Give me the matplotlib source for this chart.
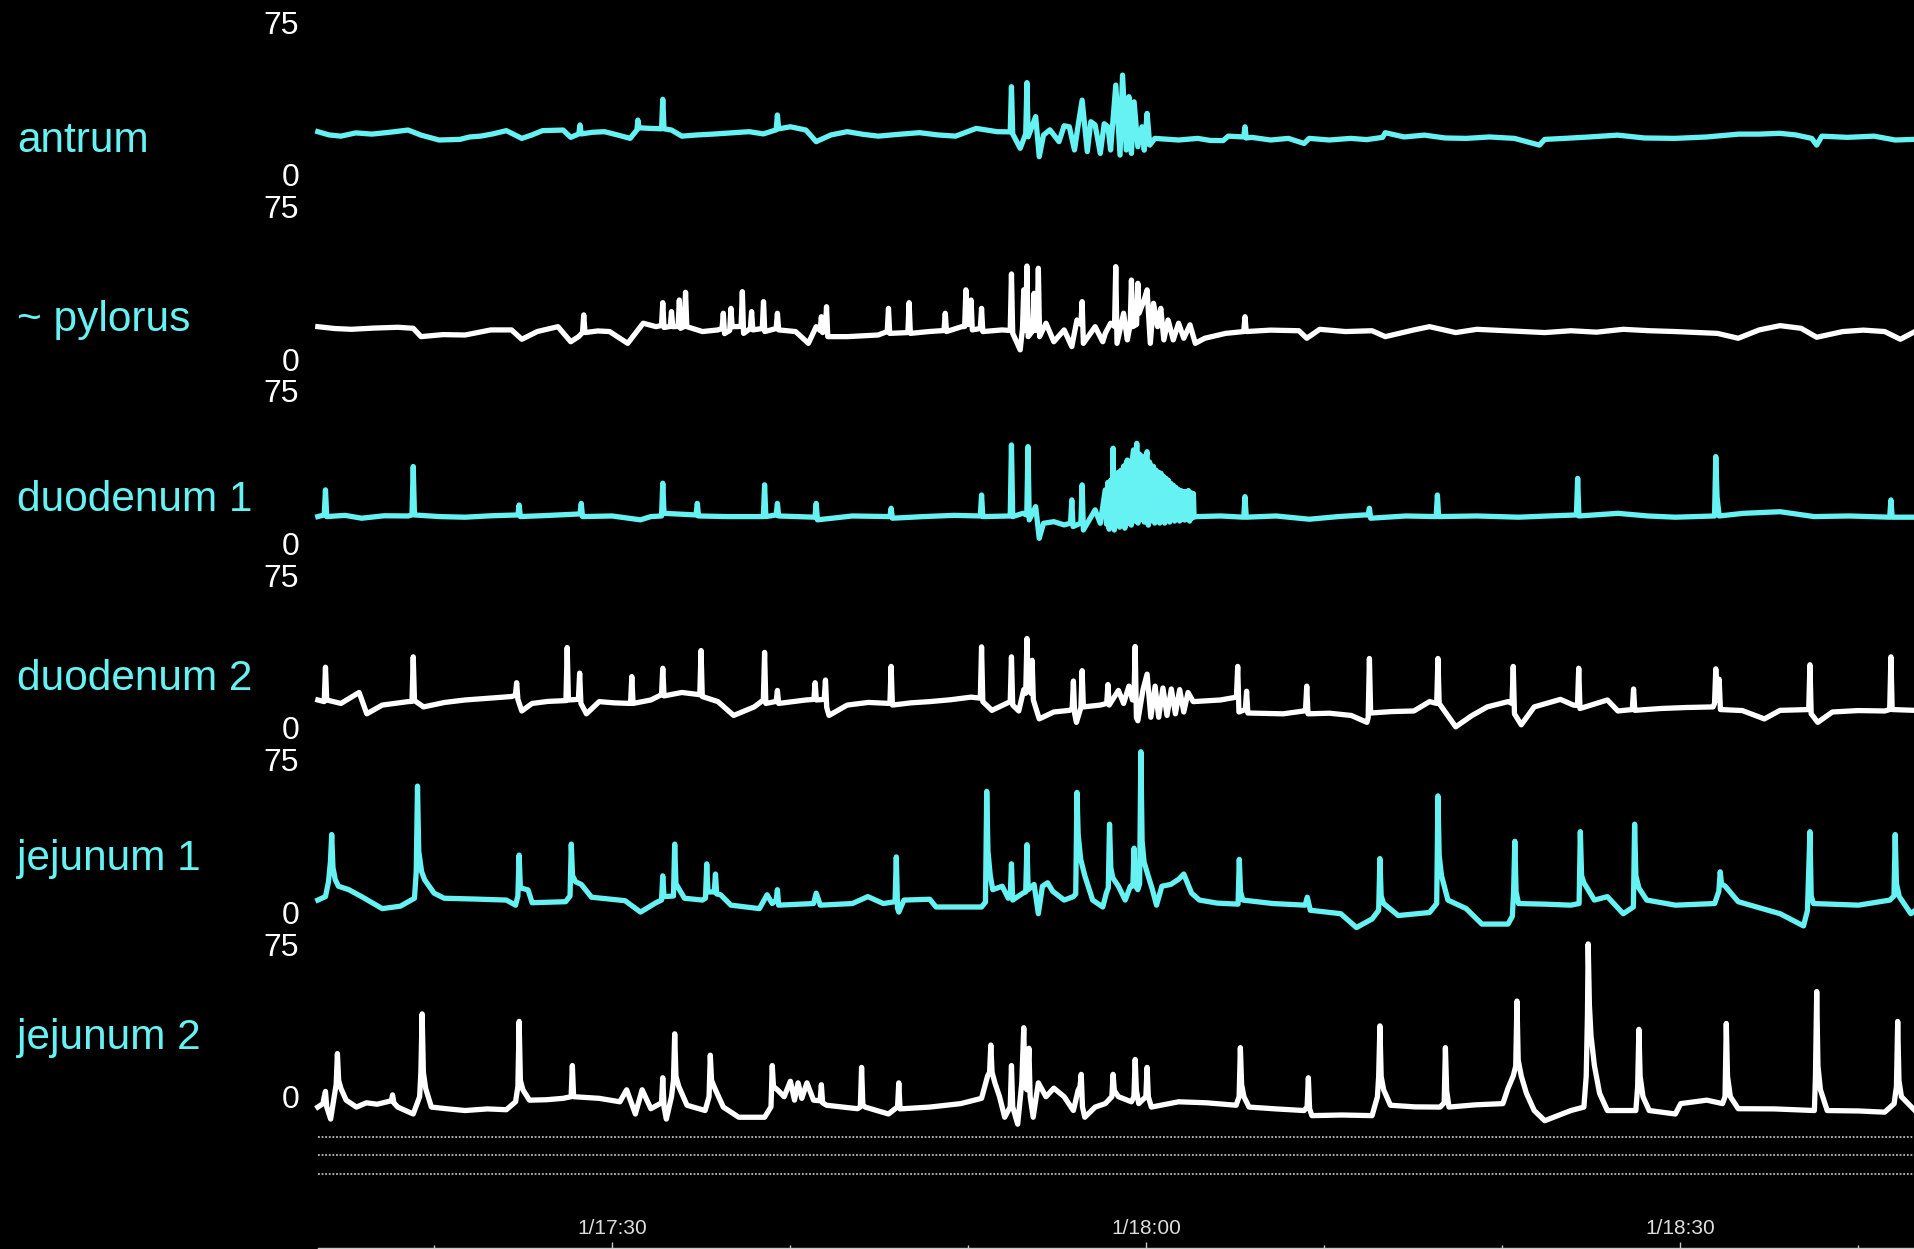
import matplotlib
matplotlib.use("Agg")
import matplotlib.pyplot as plt

plt.rcParams['font.family'] = ['Liberation Sans', 'DejaVu Sans']

# ---------------- data (time in minutes after 17:00, pressure units) ----------------
channel_names = ['antrum', '~ pylorus', 'duodenum 1', 'duodenum 2', 'jejunum 1', 'jejunum 2']

antrum_pts = [
    (13.47, 21.1), (14.1, 19.5), (14.77, 18.9), (15.6, 20.5), (16.51, 19.9), (17.5, 20.8),
    (18.54, 21.9), (19.27, 19.4), (20.28, 17.0), (21.45, 17.3), (22.0, 18.5), (22.61, 18.9),
    (23.3, 20.0), (24.06, 21.6), (24.93, 17.8), (25.5, 19.5), (26.09, 21.6), (27.25, 21.9),
    (27.68, 18.3), (28.13, 20.0), (28.20, 24.4), (28.27, 20.0), (28.9, 20.8), (29.57, 21.1),
    (30.3, 19.5), (31.02, 17.8), (31.40, 22.0), (31.45, 26.8), (31.52, 23.0), (32.18, 22.7),
    (32.78, 22.5), (32.85, 37.0), (32.92, 22.5), (33.34, 21.9), (33.92, 18.9), (34.8, 19.5),
    (35.66, 19.9), (36.7, 20.5), (37.70, 21.1), (38.5, 20.0), (39.22, 22.0), (39.29, 29.3),
    (39.36, 22.5), (40.02, 23.5), (40.89, 21.9), (41.47, 16.2), (42.3, 19.5), (43.21, 21.1),
    (44.1, 19.8), (44.95, 18.9), (46.1, 19.8), (47.27, 20.6), (48.3, 19.5), (49.30, 18.9),
    (50.46, 22.7), (51.63, 21.1), (52.37, 21.0), (52.44, 43.2), (52.51, 20.0), (52.93, 12.9),
    (53.24, 20.0), (53.31, 45.2), (53.38, 18.6), (53.80, 28.5), (54.00, 8.8), (54.24, 19.4),
    (54.60, 22.0), (55.11, 16.2), (55.40, 24.0), (55.69, 23.5), (55.98, 12.1), (56.20, 25.0),
    (56.41, 36.6), (56.70, 11.3), (56.90, 26.0), (57.14, 24.4), (57.43, 10.4), (57.65, 25.0),
    (57.86, 23.5), (58.01, 12.1), (58.30, 44.0), (58.54, 9.6), (58.68, 48.9), (58.89, 12.1),
    (59.04, 38.3), (59.18, 10.4), (59.33, 35.8), (59.54, 13.7), (59.77, 23.5), (59.90, 12.0),
    (60.06, 30.1), (60.21, 14.5), (60.50, 17.8), (61.83, 17.0), (62.9, 17.8), (63.6, 16.8),
    (64.33, 16.7), (64.62, 18.9), (65.49, 18.5), (65.56, 23.5), (65.63, 18.0), (65.94, 18.3),
    (67.0, 17.0), (68.0, 17.8), (68.88, 15.3), (69.17, 17.8), (70.3, 17.0), (71.5, 17.8),
    (72.4, 17.2), (73.29, 18.3), (73.44, 20.6), (74.5, 18.5), (75.64, 19.4), (76.8, 18.0),
    (78.00, 17.8), (79.3, 18.5), (80.7, 17.8), (82.10, 14.5), (82.40, 17.3), (83.5, 17.8),
    (84.9, 18.5), (86.50, 19.4), (88.0, 18.0), (89.70, 17.8), (91.5, 18.5), (93.30, 19.9),
    (94.45, 19.9), (95.60, 20.3), (96.5, 19.5), (97.40, 17.8), (97.68, 14.5), (97.97, 18.9),
    (99.4, 18.3), (100.90, 18.9), (102.09, 17.0), (103.10, 17.3),
]

pylorus_pts = [
    (13.47, 15.9), (14.4, 15.0), (15.35, 14.6), (16.6, 15.2), (17.96, 15.6), (18.83, 15.1),
    (19.27, 11.0), (20.5, 12.0), (21.74, 11.8), (23.19, 14.3), (24.35, 14.3), (24.93, 9.7),
    (25.80, 13.5), (26.96, 15.9), (27.68, 8.5), (28.12, 11.0), (28.34, 13.0), (28.41, 21.7),
    (28.48, 13.0), (29.2, 13.8), (29.86, 13.5), (30.88, 7.7), (31.75, 17.6), (32.47, 15.9),
    (32.78, 16.5), (32.85, 27.7), (32.92, 15.5), (33.27, 16.0), (33.34, 23.3), (33.41, 15.9),
    (33.71, 16.0), (33.78, 29.0), (33.85, 15.1), (34.06, 16.0), (34.13, 32.8), (34.20, 15.9),
    (35.08, 13.5), (35.95, 14.3), (36.18, 15.0), (36.25, 22.5), (36.32, 12.5), (36.61, 14.0),
    (36.68, 24.9), (36.75, 15.9), (37.25, 16.0), (37.32, 33.1), (37.39, 12.6), (37.77, 15.0),
    (37.84, 23.3), (37.91, 14.3), (38.44, 15.0), (38.51, 28.2), (38.58, 13.5), (39.22, 15.0),
    (39.29, 22.5), (39.36, 14.3), (40.31, 13.5), (41.03, 7.7), (41.47, 15.9), (41.69, 14.0),
    (41.76, 20.8), (41.83, 13.0), (41.98, 14.0), (42.05, 25.7), (42.12, 11.0), (43.21, 11.0),
    (44.95, 11.8), (45.46, 13.5), (45.53, 24.9), (45.60, 12.6), (46.62, 13.0), (46.69, 27.7),
    (46.76, 12.6), (47.8, 13.5), (48.65, 14.0), (48.72, 22.5), (48.79, 13.5), (49.65, 15.9),
    (49.81, 16.0), (49.88, 34.0), (49.95, 17.0), (50.10, 17.0), (50.17, 29.0), (50.24, 14.3),
    (50.69, 15.0), (50.76, 24.9), (50.83, 13.5), (51.92, 14.3), (52.37, 14.0), (52.44, 41.8),
    (52.51, 12.6), (52.93, 4.5), (53.06, 15.0), (53.13, 34.0), (53.20, 14.0), (53.24, 16.0),
    (53.31, 45.7), (53.38, 11.0), (53.64, 14.0), (53.71, 32.3), (53.78, 14.0), (53.88, 15.0),
    (53.95, 44.6), (54.02, 11.0), (54.38, 17.6), (54.82, 8.5), (55.40, 14.3), (55.83, 6.1),
    (56.12, 19.2), (56.34, 17.0), (56.41, 28.2), (56.48, 7.7), (57.14, 15.9), (57.57, 8.5),
    (57.71, 12.6), (58.01, 17.6), (58.23, 16.0), (58.30, 45.4), (58.37, 7.7), (58.74, 22.5),
    (58.95, 9.4), (59.11, 17.0), (59.18, 38.8), (59.25, 15.9), (59.47, 17.0), (59.54, 37.2),
    (59.61, 22.5), (59.89, 29.0), (60.06, 34.0), (60.24, 7.7), (60.42, 27.4), (60.65, 15.9),
    (60.83, 24.9), (61.00, 9.4), (61.24, 19.2), (61.53, 9.4), (61.83, 17.6), (62.12, 10.2),
    (62.47, 16.8), (62.77, 7.7), (63.30, 10.2), (64.47, 12.6), (65.49, 13.5), (65.56, 20.8),
    (65.63, 13.5), (67.0, 14.2), (68.59, 13.9), (69.03, 10.2), (69.76, 14.6), (71.2, 13.5),
    (72.70, 13.9), (73.44, 11.0), (75.05, 14.3), (75.93, 15.9), (77.40, 13.0), (78.58, 14.6),
    (80.5, 13.8), (82.40, 13.0), (83.87, 13.9), (85.3, 13.2), (86.81, 14.6), (88.3, 13.9),
    (89.74, 13.5), (92.10, 12.6), (93.27, 10.2), (94.45, 14.3), (95.62, 16.4), (96.80, 15.1),
    (97.68, 10.7), (99.15, 13.5), (100.3, 14.2), (101.50, 13.5), (102.38, 9.7), (103.20, 13.5),
]

duodenum1_pts = [
    (13.47, 13.2), (13.83, 14.0), (13.90, 26.3), (13.97, 13.2), (15.0, 13.8), (15.93, 12.4),
    (17.2, 13.6), (18.54, 13.5), (18.76, 14.0), (18.83, 37.8), (18.90, 14.0), (20.3, 13.2),
    (21.74, 12.9), (23.2, 13.6), (24.71, 14.0), (24.78, 18.9), (24.85, 13.2), (26.5, 13.8),
    (28.20, 14.5), (28.27, 19.7), (28.34, 13.2), (30.0, 13.5), (31.60, 11.6), (32.18, 13.2),
    (32.78, 13.5), (32.85, 29.6), (32.92, 14.8), (34.72, 14.0), (34.79, 19.7), (34.86, 13.5),
    (36.5, 13.2), (38.50, 13.2), (38.57, 28.8), (38.64, 13.2), (39.22, 14.0), (39.29, 19.7),
    (39.36, 13.5), (41.40, 12.9), (41.47, 19.7), (41.54, 11.6), (43.5, 13.5), (45.61, 13.2),
    (45.68, 17.3), (45.75, 12.4), (47.5, 13.2), (49.2, 13.8), (50.69, 13.5), (50.76, 23.8),
    (50.83, 13.2), (52.37, 13.5), (52.44, 48.4), (52.51, 13.2), (53.08, 14.8), (53.30, 14.0),
    (53.37, 47.6), (53.44, 11.6), (53.80, 18.1), (54.00, 2.5), (54.24, 9.9), (54.82, 10.7),
    (55.40, 9.1), (55.76, 10.0), (55.83, 21.4), (55.90, 8.3), (56.34, 10.0), (56.41, 28.8),
    (56.48, 6.6), (57.14, 16.5), (57.43, 9.9),
    (57.71, 26.3), (57.78, 9.5), (57.86, 30.0), (57.93, 7.0), (58.01, 31.0), (58.08, 9.0),
    (58.15, 46.8), (58.22, 6.6), (58.30, 33.0), (58.37, 9.5), (58.45, 35.0), (58.52, 8.0),
    (58.60, 36.0), (58.67, 10.0), (58.74, 38.0), (58.81, 7.5), (58.88, 39.0), (58.95, 41.0),
    (59.02, 10.0), (59.10, 40.0), (59.17, 9.0), (59.24, 42.0), (59.30, 46.0), (59.37, 11.0),
    (59.48, 49.2), (59.55, 10.0), (59.62, 44.0), (59.69, 12.0), (59.76, 43.0), (59.83, 42.0),
    (59.90, 10.5), (59.98, 41.0), (60.06, 45.1), (60.13, 9.0), (60.20, 40.0), (60.27, 11.0),
    (60.34, 38.0), (60.42, 37.8), (60.49, 10.0), (60.56, 36.0), (60.63, 11.5), (60.70, 35.0),
    (60.77, 10.0), (60.84, 34.5), (60.91, 12.0), (60.98, 33.0), (61.05, 10.0), (61.12, 32.0),
    (61.19, 12.0), (61.26, 31.0), (61.33, 10.5), (61.40, 29.5), (61.47, 12.0), (61.54, 28.5),
    (61.61, 11.0), (61.68, 27.5), (61.75, 12.5), (61.82, 26.5), (61.89, 11.0), (61.96, 26.0),
    (62.03, 12.0), (62.10, 25.5), (62.17, 11.5), (62.24, 25.5), (62.31, 12.0), (62.38, 26.0),
    (62.45, 11.0), (62.52, 25.0), (62.59, 12.5), (62.66, 24.5), (62.70, 13.0), (62.86, 13.2),
    (64.2, 13.5), (65.49, 12.9), (65.56, 23.0), (65.63, 12.9), (67.3, 13.5), (69.17, 11.9),
    (70.8, 13.2), (72.26, 14.0), (72.48, 14.0), (72.55, 17.3), (72.62, 12.4), (74.6, 13.5),
    (76.30, 13.2), (76.37, 23.8), (76.44, 13.2), (78.6, 13.5), (80.93, 12.9), (82.6, 13.5),
    (84.18, 14.0), (84.25, 32.0), (84.32, 13.5), (86.51, 14.8), (88.2, 13.5), (89.74, 12.9),
    (91.94, 13.5), (92.01, 42.7), (92.08, 23.0), (92.20, 13.5), (93.56, 14.8), (95.62, 15.6),
    (97.53, 13.2), (99.5, 13.5), (101.78, 12.9), (101.85, 21.4), (101.92, 12.9), (103.20, 12.9),
]

duodenum2_pts = [
    (13.47, 13.7), (13.83, 12.9), (13.90, 29.8), (13.97, 13.7), (14.77, 12.0), (15.79, 17.4),
    (16.22, 6.9), (17.09, 11.2), (18.54, 12.9), (18.76, 13.0), (18.83, 34.9), (18.90, 13.4),
    (19.41, 10.3), (20.6, 12.5), (21.74, 13.7), (23.0, 14.5), (24.35, 15.4), (24.57, 16.0),
    (24.64, 22.2), (24.71, 14.0), (24.93, 8.3), (25.51, 12.0), (26.4, 13.0), (27.41, 13.4),
    (27.48, 39.5), (27.55, 13.7), (28.11, 14.0), (28.18, 26.9), (28.25, 12.0), (28.56, 6.9),
    (29.28, 12.9), (30.1, 12.3), (31.04, 12.0), (31.11, 25.2), (31.18, 12.0), (32.18, 13.7),
    (32.78, 16.3), (32.85, 29.3), (32.92, 15.7), (33.92, 17.4), (34.93, 16.3), (35.00, 38.0),
    (35.07, 15.4), (35.95, 12.9), (36.83, 6.1), (37.99, 10.3), (38.50, 13.7), (38.57, 37.1),
    (38.64, 12.0), (39.22, 13.0), (39.29, 18.4), (39.36, 12.0), (40.89, 13.7), (41.34, 14.0),
    (41.41, 22.2), (41.48, 13.7), (41.92, 14.0), (41.99, 23.5), (42.06, 10.0), (42.19, 6.1),
    (43.21, 11.2), (44.4, 12.5), (45.61, 12.0), (45.68, 30.2), (45.75, 11.2), (46.8, 12.3),
    (47.85, 12.9), (49.0, 13.8), (50.17, 15.1), (50.69, 14.6), (50.76, 39.8), (50.83, 12.9),
    (51.34, 8.6), (52.37, 12.9), (52.44, 34.9), (52.51, 11.2), (52.85, 8.3), (53.13, 18.8),
    (53.24, 17.0), (53.31, 43.9), (53.38, 20.5), (53.53, 17.0), (53.60, 33.2), (53.67, 13.7),
    (54.00, 4.4), (54.82, 7.8), (55.69, 8.6), (55.85, 9.0), (55.92, 23.0), (55.99, 7.0),
    (56.09, 2.7), (56.34, 10.0), (56.41, 28.1), (56.48, 10.3), (57.43, 11.2), (57.79, 12.0),
    (57.86, 21.3), (57.93, 11.2), (58.45, 18.4), (58.74, 12.0), (59.04, 20.5), (59.24, 13.7),
    (59.32, 14.0), (59.39, 40.0), (59.46, 5.0), (59.54, 3.5), (59.83, 18.8), (60.06, 26.4),
    (60.27, 5.2), (60.51, 20.5), (60.71, 5.2), (60.95, 19.6), (61.18, 6.1), (61.42, 19.1),
    (61.65, 6.9), (61.89, 18.8), (62.12, 7.8), (62.36, 17.4), (62.65, 12.9), (64.18, 13.7),
    (65.08, 15.1), (65.15, 30.2), (65.22, 7.8), (65.58, 9.0), (65.65, 18.0), (65.72, 7.3),
    (67.70, 6.9), (68.88, 8.3), (68.96, 9.0), (69.03, 20.5), (69.10, 6.9), (70.3, 7.2),
    (71.53, 6.1), (72.41, 2.7), (72.48, 5.0), (72.55, 34.1), (72.62, 7.3), (73.8, 8.0),
    (75.05, 8.3), (75.93, 12.9), (76.33, 12.0), (76.40, 34.1), (76.47, 12.0), (77.40, 0.5),
    (78.3, 6.0), (79.17, 10.3), (80.34, 12.9), (80.56, 12.0), (80.63, 30.2), (80.70, 6.9),
    (81.08, 1.5), (81.81, 10.3), (83.28, 14.0), (84.01, 11.2), (84.24, 11.0), (84.31, 29.3),
    (84.38, 9.5), (85.92, 13.7), (86.51, 8.3), (87.32, 9.0), (87.39, 19.1), (87.46, 8.6),
    (88.9, 9.5), (90.33, 10.0), (91.86, 10.3), (91.94, 12.0), (92.01, 29.0), (92.08, 13.7),
    (92.20, 23.9), (92.27, 9.0), (93.5, 8.5), (94.74, 4.4), (95.62, 8.6), (97.23, 9.0),
    (97.30, 31.0), (97.37, 6.9), (97.74, 2.7), (98.56, 7.8), (100.0, 8.5), (101.50, 8.3),
    (101.78, 9.0), (101.85, 34.9), (101.92, 9.0), (103.20, 8.6),
]

jejunum1_pts = [
    (13.47, 6.0), (13.90, 7.7), (14.07, 15.0), (14.18, 25.0), (14.25, 38.2), (14.32, 22.0),
    (14.45, 16.0), (14.63, 12.8), (15.21, 11.1), (15.93, 7.7), (17.09, 1.8), (18.11, 3.0),
    (18.90, 6.9), (19.00, 20.0), (19.07, 62.0), (19.14, 30.0), (19.30, 20.0), (19.47, 16.0),
    (20.00, 9.4), (20.57, 6.9), (22.3, 6.5), (24.06, 6.0), (24.58, 3.5), (24.71, 8.0),
    (24.78, 28.1), (24.85, 12.0), (25.28, 11.0), (25.51, 4.7), (27.39, 5.2), (27.64, 8.0),
    (27.71, 33.5), (27.78, 18.0), (27.95, 15.0), (28.27, 13.7), (28.85, 7.4), (30.73, 5.7),
    (31.60, 0.1), (32.47, 4.7), (32.78, 6.0), (32.85, 17.9), (32.92, 7.7), (33.45, 8.0),
    (33.52, 33.5), (33.59, 14.0), (34.07, 6.9), (35.08, 6.0), (35.25, 7.0), (35.32, 23.8),
    (35.39, 10.0), (35.74, 10.0), (35.81, 18.8), (35.88, 9.0), (36.10, 8.6), (36.68, 3.5),
    (38.28, 1.8), (38.71, 8.6), (39.00, 4.3), (39.22, 6.0), (39.29, 11.1), (39.36, 3.5),
    (41.32, 4.3), (41.47, 9.4), (41.70, 3.5), (43.50, 4.3), (44.37, 7.7), (45.24, 4.3),
    (45.90, 5.2), (45.97, 27.2), (46.04, 2.0), (46.11, 0.1), (46.40, 6.0), (47.85, 6.4),
    (48.20, 2.6), (50.76, 2.6), (50.98, 5.0), (51.05, 59.4), (51.12, 30.0), (51.25, 18.0),
    (51.39, 11.1), (51.92, 12.8), (52.26, 6.9), (52.37, 8.0), (52.44, 23.8), (52.51, 6.0),
    (53.08, 9.4), (53.24, 10.0), (53.31, 33.2), (53.38, 11.1), (53.71, 13.7), (53.95, -0.7),
    (54.18, 12.8), (54.47, 14.5), (54.76, 10.3), (55.40, 6.0), (55.92, 7.7), (56.05, 9.0),
    (56.12, 58.9), (56.19, 38.0), (56.33, 26.0), (56.56, 18.0), (57.00, 6.0), (57.57, 2.6),
    (57.77, 9.4), (57.88, 12.0), (57.95, 43.3), (58.02, 22.0), (58.13, 17.0), (58.45, 12.8),
    (58.83, 6.0), (59.12, 12.8), (59.26, 13.0), (59.33, 31.5), (59.40, 13.0), (59.54, 11.1),
    (59.64, 14.0), (59.71, 78.9), (59.78, 35.0), (59.89, 24.7), (60.12, 17.9), (60.36, 11.1),
    (60.59, 3.5), (60.89, 12.8), (61.39, 13.7), (61.83, 16.2), (62.12, 18.8), (62.56, 9.4),
    (63.00, 6.0), (64.0, 4.5), (65.17, 4.0), (65.24, 26.0), (65.31, 10.0), (65.44, 6.0),
    (67.12, 4.3), (68.94, 3.5), (69.06, 7.4), (69.23, 1.0), (70.94, -0.7), (71.82, -7.5),
    (72.70, -3.3), (73.07, 1.0), (73.14, 26.4), (73.21, 8.0), (73.35, 4.3), (74.17, -1.6),
    (75.93, -0.1), (76.33, 4.3), (76.40, 57.2), (76.47, 28.0), (76.60, 18.0), (76.96, 6.0),
    (77.99, 1.8), (78.87, -5.8), (80.34, -5.8), (80.58, -2.0), (80.65, 10.0), (80.72, 34.9),
    (80.79, 10.0), (80.93, 4.3), (82.4, 4.0), (83.87, 3.5), (84.33, 4.3), (84.40, 39.6),
    (84.47, 18.0), (84.60, 14.5), (85.19, 6.0), (85.92, 7.7), (86.81, -0.7), (87.38, 2.6),
    (87.45, 43.3), (87.52, 18.0), (87.69, 11.9), (88.13, 6.0), (89.74, 3.5), (91.95, 4.3),
    (92.18, 10.3), (92.26, 19.9), (92.33, 14.0), (92.54, 12.8), (93.27, 5.2), (95.62, -0.7),
    (96.94, -6.7), (97.16, 0.9), (97.23, 20.0), (97.30, 39.6), (97.37, 8.0), (97.50, 4.3),
    (100.03, 3.5), (101.79, 6.0), (102.02, 8.0), (102.09, 38.2), (102.16, 14.0), (102.32, 7.7),
    (102.97, -0.7), (103.20, 0.9),
]

jejunum2_pts = [
    (13.47, -5.1), (13.76, -3.4), (13.83, 0.0), (13.90, 2.6), (13.97, -5.0), (14.19, -11.0),
    (14.39, 0.0), (14.50, 6.0), (14.57, 21.2), (14.64, 8.0), (14.77, 4.0), (15.06, -1.7),
    (15.64, -5.1), (16.2, -3.0), (16.80, -3.7), (17.60, -2.0), (17.67, 0.9), (17.74, -3.0),
    (17.96, -5.1), (18.83, -8.5), (19.19, 0.0), (19.26, 12.0), (19.33, 40.7), (19.40, 12.0),
    (19.53, 4.0), (19.85, -5.1), (20.8, -6.0), (21.74, -6.8), (23.0, -6.0), (24.06, -6.4),
    (24.58, -2.5), (24.71, 5.0), (24.78, 37.0), (24.85, 8.0), (24.99, 3.4), (25.36, -1.7),
    (26.3, -1.5), (27.25, -0.8), (27.70, 0.0), (27.77, 15.3), (27.84, 0.0), (29.28, -0.8),
    (30.44, -2.5), (30.82, 3.4), (31.31, -8.5), (31.69, 3.4), (32.18, -5.9), (32.78, -3.0),
    (32.85, 9.3), (32.92, -5.0), (33.05, -11.0), (33.34, 0.0), (33.45, 8.0), (33.52, 30.9),
    (33.59, 10.0), (33.75, 5.0), (34.21, -4.2), (35.23, -6.8), (35.45, 0.0), (35.52, 20.4),
    (35.59, 8.0), (35.81, 3.4), (36.25, -5.1), (37.12, -10.1), (38.57, -10.1), (38.93, -5.0),
    (39.00, 15.3), (39.07, 5.0), (39.29, 3.4), (39.67, 0.0), (40.02, 7.6), (40.25, -1.7),
    (40.45, 6.8), (40.66, -0.8), (40.95, 6.8), (41.32, -1.7), (41.69, -2.0), (41.76, 5.9),
    (41.83, -3.0), (42.05, -4.2), (43.79, -5.9), (43.95, -5.0), (44.02, 14.4), (44.09, -4.0),
    (44.22, -5.1), (45.53, -8.5), (46.04, -5.0), (46.11, 6.8), (46.18, -6.0), (47.85, -5.1),
    (49.59, -3.4), (50.76, -0.8), (51.10, 10.2), (51.21, 12.0), (51.28, 25.4), (51.35, 12.0),
    (51.51, 6.8), (51.77, 0.0), (52.06, -10.1), (52.37, -5.0), (52.44, 15.3), (52.51, -5.0),
    (52.79, -13.5), (53.02, 6.8), (53.13, 33.9), (53.20, 5.0), (53.31, 3.4), (53.42, 23.8),
    (53.49, 0.0), (53.66, -10.1), (53.95, 6.8), (54.38, 0.0), (54.82, 4.2), (55.40, 0.0),
    (55.92, -6.8), (56.18, 3.0), (56.29, 5.0), (56.36, 11.0), (56.43, -5.0), (56.56, -10.1),
    (57.14, -5.1), (57.71, -3.4), (58.08, 0.0), (58.15, 11.0), (58.22, 3.0), (58.45, 0.0),
    (59.18, -2.5), (59.32, 0.0), (59.39, 18.3), (59.46, 3.0), (59.59, -3.4), (59.99, 0.0),
    (60.06, 14.4), (60.13, 0.0), (60.30, -5.1), (61.83, -2.5), (63.4, -3.0), (65.06, -4.2),
    (65.23, 0.0), (65.30, 24.1), (65.37, 6.0), (65.50, 0.0), (65.79, -5.1), (67.3, -6.0),
    (68.88, -6.8), (69.05, -5.0), (69.12, 9.3), (69.19, -6.0), (69.32, -9.3), (71.0, -9.0),
    (72.70, -9.3), (73.00, 0.0), (73.07, 10.0), (73.14, 34.8), (73.21, 10.0), (73.35, 3.4),
    (73.73, -4.2), (75.1, -5.0), (76.52, -5.1), (76.75, -3.0), (76.82, 24.1), (76.89, 3.0),
    (77.02, -5.1), (78.5, -4.0), (80.05, -3.4), (80.34, 4.2), (80.63, 10.2), (80.77, 15.0),
    (80.84, 47.0), (80.91, 18.0), (81.08, 10.2), (81.37, 1.7), (81.81, -6.8), (82.40, -11.8),
    (83.87, -6.8), (84.60, -5.1), (84.73, 10.0), (84.80, 40.0), (84.84, 75.1), (84.91, 45.0),
    (85.00, 30.0), (85.19, 15.3), (85.48, 1.7), (85.92, -6.8), (87.52, -6.8), (87.62, 5.0),
    (87.69, 33.1), (87.76, 10.0), (87.92, 0.0), (88.27, -6.8), (89.74, -8.5), (90.04, -3.4),
    (91.51, -1.7), (92.39, -3.4), (92.53, 0.0), (92.60, 36.0), (92.67, 10.0), (92.83, 0.0),
    (93.27, -5.9), (95.3, -6.0), (97.55, -6.8), (97.61, 10.0), (97.68, 51.7), (97.75, 15.0),
    (97.89, 3.4), (98.27, -6.8), (100.0, -7.0), (101.50, -7.6), (102.03, -3.4), (102.16, 5.0),
    (102.23, 37.0), (102.30, 8.0), (102.44, 0.0), (103.20, -6.8),
]

channel_data = [antrum_pts, pylorus_pts, duodenum1_pts, duodenum2_pts, jejunum1_pts, jejunum2_pts]
channel_colors = ['#66F2F2', '#FFFFFF', '#66F2F2', '#FFFFFF', '#66F2F2', '#FFFFFF']

scale_ticks = [0, 75]
scale_labels = ['0', '75']
event_rows = [-19.8, -28.7, -38.1]          # event-marker rows below the last channel

major_times = [30, 60, 90]
major_labels = ['1/17:30', '1/18:00', '1/18:30']
minor_times = [20, 40, 50, 70, 80, 100]

# ---------------- layout ----------------
W, H = 1915, 1249
fig = plt.figure(figsize=(W / 100, H / 100), dpi=100, facecolor='black')

ax_left, ax_right = 318, 1913
ax = fig.add_axes([ax_left / W, 1 / H, (ax_right - ax_left) / W, (H - 1) / H])
ax.set_facecolor('black')

u = 75 / 152.6                 # units per pixel
zero0_px = 174.6               # pixel row of channel 1 zero
spacing_px = 184.42
offset_step = spacing_px * u
ax.set_ylim((zero0_px - (H - 1)) * u, zero0_px * u)
ax.set_xlim(13.48, 103.09)

offsets = [-k * offset_step for k in range(len(channel_names))]

for pts, off, col in zip(channel_data, offsets, channel_colors):
    t = [p[0] for p in pts]
    v = [p[1] + off for p in pts]
    ax.plot(t, v, color=col, lw=3.8, solid_joinstyle='round', clip_on=False)

for r in event_rows:
    ax.hlines(offsets[-1] + r, 13.48, 103.09, colors='#BBBBBB', lw=1.3,
              linestyles=(0, (1, 1)))

yt, yl = [], []
for off in offsets:
    for val, lab in zip(scale_ticks, scale_labels):
        yt.append(off + val)
        yl.append(lab)
ax.set_yticks(yt, yl)
ax.tick_params(axis='y', length=0, pad=13.5, labelsize=23, labelcolor='white')

ax.set_xticks(major_times, major_labels)
ax.set_xticks(minor_times, minor=True)
ax.tick_params(axis='x', which='major', direction='in', length=4.3, width=1,
               color='#C8C8C8', pad=-21, labelsize=15, labelcolor='#DDDDDD')
ax.tick_params(axis='x', which='minor', direction='in', length=2.2, width=1,
               color='#C8C8C8')

for s in ['left', 'right', 'top']:
    ax.spines[s].set_visible(False)
ax.spines['bottom'].set_color('#C8C8C8')
ax.spines['bottom'].set_linewidth(1)

# channel names
for k, name in enumerate(channel_names):
    base_px = 152 + 179.4 * k
    fig.text(17 / W, 1 - base_px / H, name, color='#66F2F2', fontsize=30.5,
             ha='left', va='baseline')

fig.savefig('out.png', dpi=100, facecolor='black')
